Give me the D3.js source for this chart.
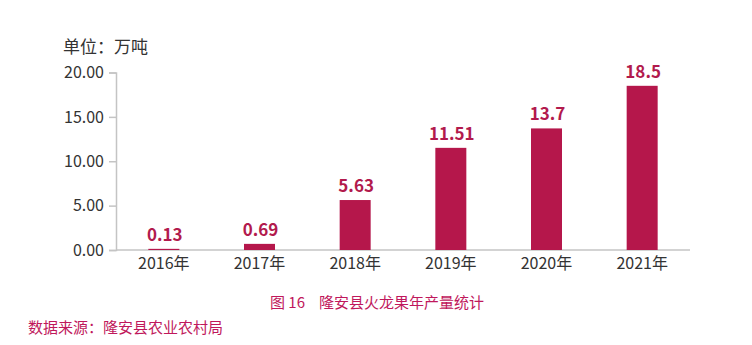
<!DOCTYPE html>
<html><head><meta charset="utf-8">
<script src="https://cdn.jsdelivr.net/npm/d3@7/dist/d3.min.js"></script>
<style>body{margin:0;background:#fff;}svg{display:block;font-family:"Noto Sans CJK SC","Noto Sans",sans-serif;}</style>
</head><body><svg id="c" width="752" height="345"></svg>
<script>
const categories = ["2016年","2017年","2018年","2019年","2020年","2021年"];
const values = [0.13, 0.69, 5.63, 11.51, 13.7, 18.5];
const valueLabels = ["0.13","0.69","5.63","11.51","13.7","18.5"];
const yTicks = [0, 5, 10, 15, 20];
const unitText = "单位：万吨";
const captionNum = "图 16";
const captionText = "隆安县火龙果年产量统计";
const sourceText = "数据来源：隆安县农业农村局";

const svg = d3.select("#c");
const barColor = "#b5174b";
const x = d3.scaleBand().domain(categories).range([116, 690]).paddingInner(0.676).paddingOuter(0.338);
const y = d3.scaleLinear().domain([0, 20]).range([250, 72.5]);

// y axis
const ya = svg.append("g").attr("transform", "translate(116,0)")
  .call(d3.axisLeft(y).tickValues(yTicks).tickFormat(d3.format(".2f")).tickSize(7).tickPadding(5));
ya.select(".domain").attr("stroke", "#c4c4c4").attr("stroke-width", 1.5);
ya.selectAll(".tick line").attr("stroke", "#c4c4c4").attr("stroke-width", 1.5);
ya.selectAll(".tick text").attr("fill", "#333").style("font-size", "16px").style("font-family", '"Noto Sans CJK SC","Noto Sans",sans-serif');

// x axis
const xa = svg.append("g").attr("transform", "translate(0,250)")
  .call(d3.axisBottom(x).tickSize(0).tickPadding(8));
xa.select(".domain").attr("stroke", "#c4c4c4").attr("stroke-width", 1.5).attr("d", "M116,0H690");
xa.selectAll(".tick text").attr("fill", "#333").style("font-size", "16px").style("font-family", '"Noto Sans CJK SC","Noto Sans",sans-serif');

// bars
svg.append("g").selectAll("rect").data(values).join("rect")
  .attr("x", (d,i) => x(categories[i]))
  .attr("width", x.bandwidth())
  .attr("y", d => y(d))
  .attr("height", d => y(0) - y(d))
  .attr("fill", barColor);

// value labels
svg.append("g").selectAll("text").data(values).join("text")
  .attr("x", (d,i) => x(categories[i]) + x.bandwidth()/2 + 1)
  .attr("y", d => y(d) - 8)
  .attr("text-anchor", "middle")
  .attr("fill", "#b21a4d")
  .style("font-size", "17px").style("font-weight", "bold")
  .text((d,i) => valueLabels[i]);

// unit
svg.append("text").attr("x", 63).attr("y", 53).attr("fill", "#333").style("font-size", "17px").text(unitText);
// caption
svg.append("text").attr("x", 270).attr("y", 308).attr("fill", "#c0185c").style("font-size", "15px").text(captionNum);
svg.append("text").attr("x", 319).attr("y", 308).attr("fill", "#c0185c").style("font-size", "15px").text(captionText);
// source
svg.append("text").attr("x", 28).attr("y", 333).attr("fill", "#c0185c").style("font-size", "15px").text(sourceText);
</script></body></html>
